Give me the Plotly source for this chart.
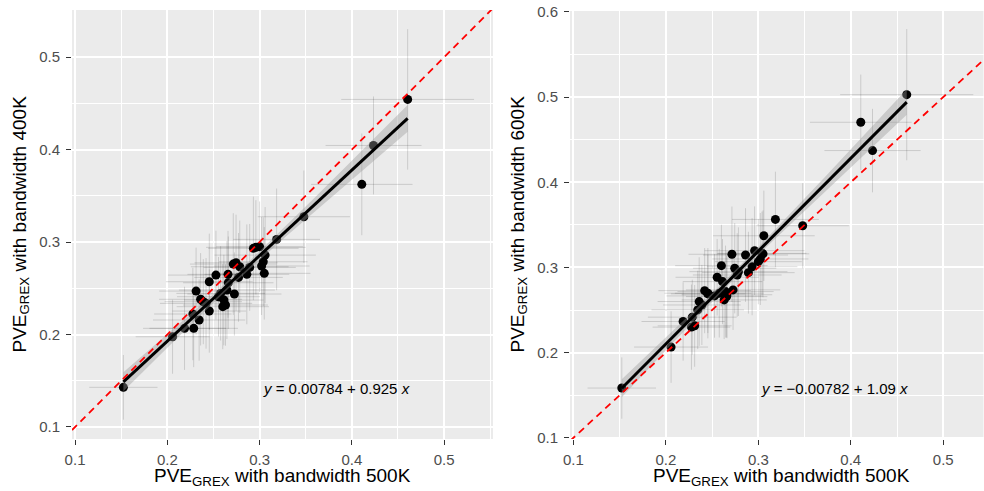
import numpy as np
import plotly.graph_objects as go

# ---- data ----
pve500 = [0.1524, 0.2057, 0.2187, 0.2277, 0.2286, 0.2312, 0.2345, 0.2361, 0.2390, 0.2420,
          0.2455, 0.2455, 0.2527, 0.2555, 0.2578, 0.2601, 0.2613, 0.2631, 0.2646, 0.2658,
          0.2661, 0.2715, 0.2727, 0.2745, 0.2772, 0.2785, 0.2862, 0.2893, 0.2933, 0.2960,
          0.3000, 0.3022, 0.3040, 0.3051, 0.3060, 0.3185, 0.3480, 0.4108, 0.4235, 0.4605]
pve400 = [0.1429, 0.1976, 0.2067, 0.2222, 0.2067, 0.2470, 0.2157, 0.2381, 0.2355, 0.2337,
          0.2571, 0.2254, 0.2643, 0.2409, 0.2445, 0.2301, 0.2373, 0.2319, 0.2481, 0.2651,
          0.2560, 0.2762, 0.2438, 0.2776, 0.2618, 0.2733, 0.2651, 0.2726, 0.2932, 0.2943,
          0.2949, 0.2741, 0.2787, 0.2662, 0.2859, 0.3029, 0.3274, 0.3624, 0.4045, 0.4543]
pve600 = [0.1585, 0.2066, 0.2366, 0.2300, 0.2417, 0.2315, 0.2502, 0.2600, 0.2560, 0.2728,
          0.2698, 0.2690, 0.2666, 0.2885, 0.2698, 0.3021, 0.2834, 0.2619, 0.2717, 0.2658,
          0.2680, 0.3155, 0.2737, 0.2991, 0.2912, 0.2951, 0.3146, 0.2939, 0.3009, 0.3197,
          0.3068, 0.3100, 0.3166, 0.3160, 0.3372, 0.3564, 0.3490, 0.4704, 0.4372, 0.5028]
ci500 = [0.037, 0.040, 0.045, 0.042, 0.048, 0.040, 0.050, 0.045, 0.042, 0.050,
         0.047, 0.040, 0.052, 0.045, 0.048, 0.050, 0.043, 0.046, 0.052, 0.044,
         0.049, 0.047, 0.051, 0.045, 0.048, 0.053, 0.046, 0.050, 0.049, 0.054,
         0.047, 0.052, 0.048, 0.050, 0.055, 0.047, 0.050, 0.055, 0.052, 0.072]
ci400 = [0.035, 0.040, 0.045, 0.050, 0.042, 0.047, 0.044, 0.050, 0.046, 0.049,
         0.052, 0.045, 0.048, 0.043, 0.051, 0.046, 0.049, 0.044, 0.053, 0.047,
         0.050, 0.055, 0.045, 0.052, 0.048, 0.050, 0.054, 0.047, 0.056, 0.051,
         0.049, 0.053, 0.048, 0.050, 0.052, 0.055, 0.050, 0.055, 0.053, 0.076]
ci600 = [0.036, 0.042, 0.046, 0.050, 0.044, 0.048, 0.046, 0.052, 0.047, 0.050,
         0.053, 0.046, 0.049, 0.045, 0.052, 0.048, 0.050, 0.046, 0.054, 0.048,
         0.051, 0.056, 0.047, 0.053, 0.049, 0.052, 0.055, 0.048, 0.057, 0.052,
         0.050, 0.054, 0.049, 0.051, 0.053, 0.056, 0.050, 0.056, 0.049, 0.077]
intercepts = [0.00784, -0.00782]
slopes = [0.925, 1.09]
y_labels = ["400K", "600K"]
x_label = "500K"
x_ranges = [[0.0967, 0.553], [0.0964, 0.5435]]
y_ranges = [[0.087, 0.551], [0.0987, 0.601]]
label_pos = [[0.383, 0.142], [0.382, 0.1585]]

W, H = 984, 491
FONT = "Liberation Sans, Arial, sans-serif"
x_dom = [[72 / W, 493 / W], [570 / W, 983.5 / W]]
y_dom = [[1 - 439 / H, 1 - 10 / H], [1 - 439 / H, 1 - 11 / H]]

fig = go.Figure()
xs = np.array(pve500)
for k, ys_list in enumerate([pve400, pve600]):
    ys = np.array(ys_list)
    yerr = [ci400, ci600][k]
    xa = "x" if k == 0 else "x2"
    ya = "y" if k == 0 else "y2"
    # error bars + points
    fig.add_trace(go.Scatter(
        x=pve500, y=ys_list, mode="markers", xaxis=xa, yaxis=ya,
        marker=dict(color="black", size=9),
        error_x=dict(type="data", array=ci500, color="rgba(0,0,0,0.14)", thickness=1, width=0),
        error_y=dict(type="data", array=yerr, color="rgba(0,0,0,0.14)", thickness=1, width=0),
        showlegend=False, hoverinfo="skip"))
    # fitted line and confidence band
    a, b = intercepts[k], slopes[k]
    n = len(xs)
    resid = ys - (a + b * xs)
    s = np.sqrt(np.sum(resid ** 2) / (n - 2))
    xbar = xs.mean()
    sxx = np.sum((xs - xbar) ** 2)
    grid = np.linspace(xs.min(), xs.max(), 80)
    fit = a + b * grid
    se = s * np.sqrt(1 / n + (grid - xbar) ** 2 / sxx)
    t = 2.024
    upper = fit + t * se
    lower = fit - t * se
    fig.add_trace(go.Scatter(
        x=np.concatenate([grid, grid[::-1]]), y=np.concatenate([upper, lower[::-1]]),
        fill="toself", fillcolor="rgba(153,153,153,0.4)", line=dict(width=0),
        mode="lines", xaxis=xa, yaxis=ya, showlegend=False, hoverinfo="skip"))
    fig.add_trace(go.Scatter(
        x=grid, y=fit, mode="lines", line=dict(color="black", width=3),
        xaxis=xa, yaxis=ya, showlegend=False, hoverinfo="skip"))
    # identity line
    fig.add_trace(go.Scatter(
        x=x_ranges[k], y=x_ranges[k], mode="lines",
        line=dict(color="red", width=1.8, dash="7px,5px"),
        xaxis=xa, yaxis=ya, showlegend=False, hoverinfo="skip"))

    lead = "" if a >= 0 else "\u2212"
    txt = "<i>y</i> = %s%s + %s <i>x</i>" % (lead, ("%g" % abs(a)), ("%g" % b))
    fig.add_annotation(x=label_pos[k][0], y=label_pos[k][1], xref=xa, yref=ya,
                       text=txt, showarrow=False, font=dict(size=15, color="black", family=FONT),
                       xanchor="center", yanchor="middle")

axis_common = dict(
    showgrid=True, gridcolor="white", gridwidth=1.6, zeroline=False,
    ticks="outside", ticklen=5, tickwidth=1.2, tickcolor="#333333",
    tickfont=dict(size=15, color="#4D4D4D", family=FONT),
    dtick=0.1, tick0=0.1, showline=False, automargin=False,
    minor=dict(dtick=0.05, tick0=0.05, showgrid=True, gridcolor="white", gridwidth=0.8),
)
layout = dict(
    width=W, height=H, margin=dict(l=0, r=0, t=0, b=0),
    paper_bgcolor="white", plot_bgcolor="#EBEBEB",
    font=dict(family=FONT),
)
for k in range(2):
    sfx = "" if k == 0 else "2"
    layout["xaxis" + sfx] = dict(axis_common, domain=x_dom[k], range=x_ranges[k],
                                 anchor="y" + sfx, ticklabelstandoff=2)
    layout["yaxis" + sfx] = dict(axis_common, domain=y_dom[k], range=y_ranges[k],
                                 anchor="x" + sfx, ticklabelstandoff=3)
fig.update_layout(**layout)

# axis titles
x_centers = [282, 781]
y_title_x = [20, 518]
for k in range(2):
    fig.add_annotation(x=x_centers[k] / W, y=1 - 477 / H, xref="paper", yref="paper",
                       text="PVE<sub>GREX</sub> with bandwidth " + x_label, showarrow=False,
                       font=dict(size=19, color="black", family=FONT),
                       xanchor="center", yanchor="middle")
    fig.add_annotation(x=y_title_x[k] / W, y=1 - 224.5 / H, xref="paper", yref="paper",
                       text="PVE<sub>GREX</sub> with bandwidth " + y_labels[k], showarrow=False,
                       textangle=-90, font=dict(size=19, color="black", family=FONT),
                       xanchor="center", yanchor="middle")

fig.write_html("out.html")
